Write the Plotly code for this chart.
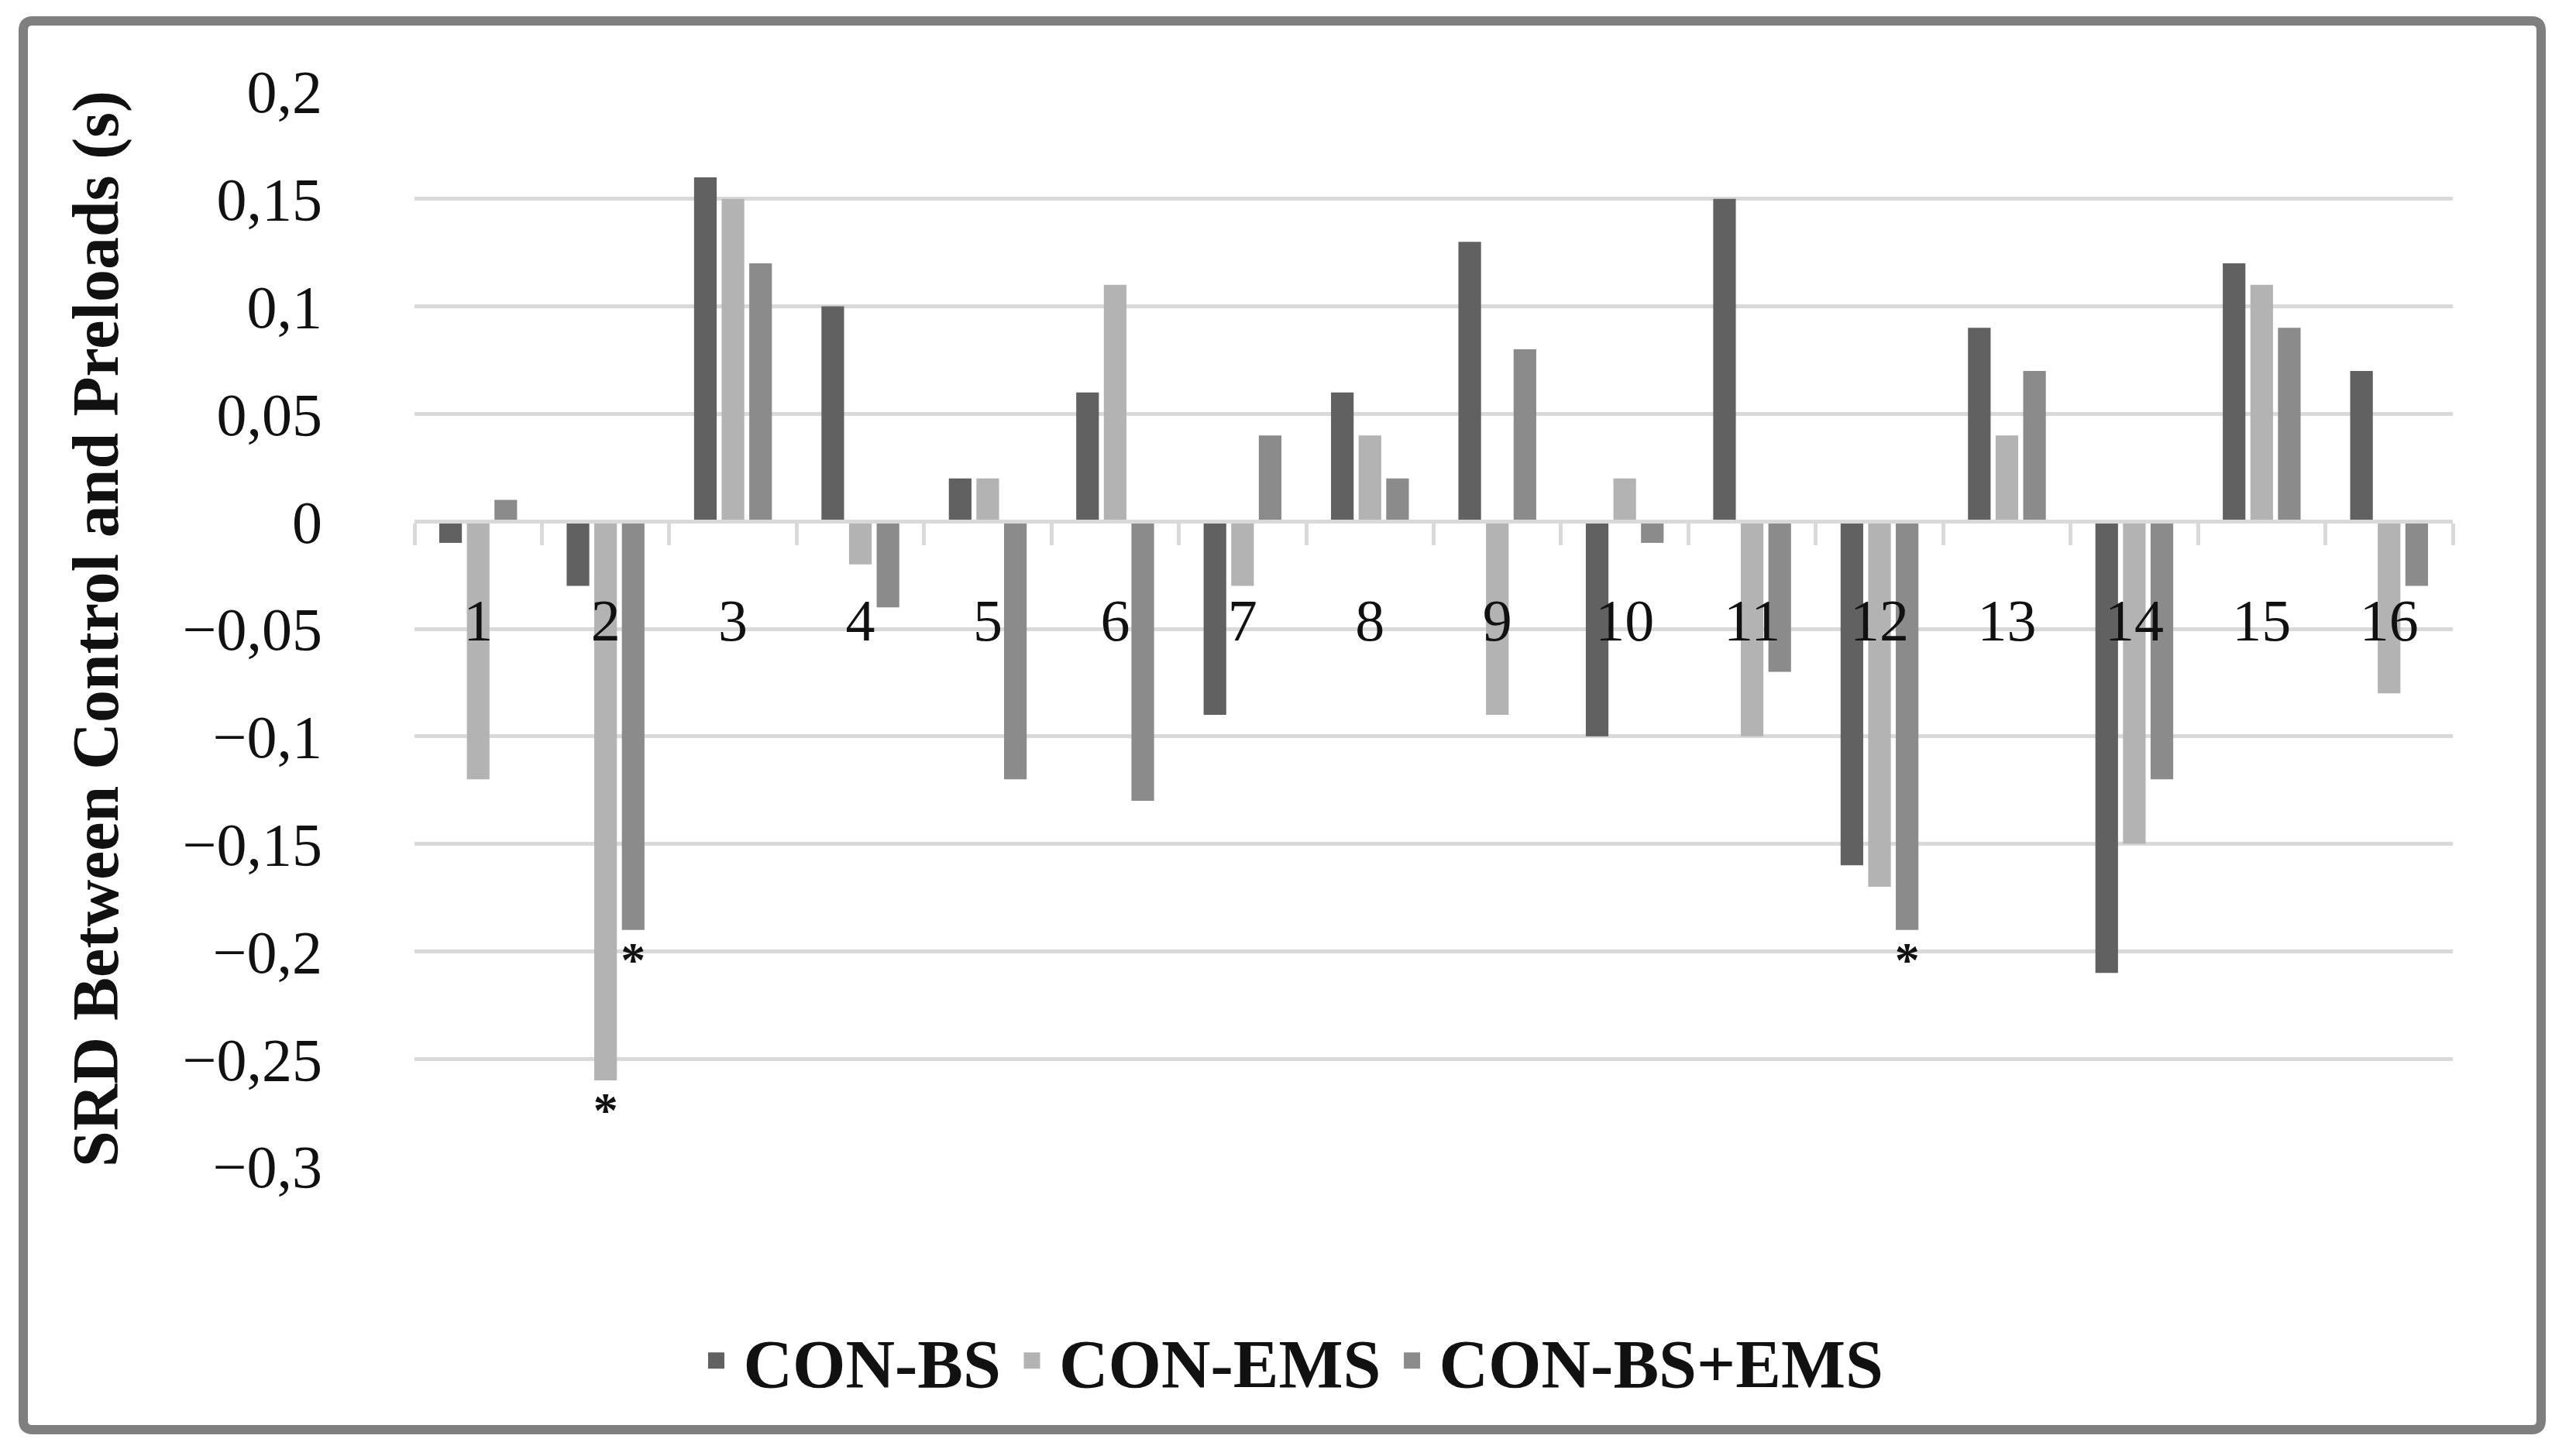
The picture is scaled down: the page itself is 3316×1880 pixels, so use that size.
import plotly.graph_objects as go

categories = [str(i) for i in range(1, 17)]
series_names = ["CON-BS", "CON-EMS", "CON-BS+EMS"]
con_bs = [-0.01, -0.03, 0.16, 0.10, 0.02, 0.06, -0.09, 0.06, 0.13, -0.10, 0.15, -0.16, 0.09, -0.21, 0.12, 0.07]
con_ems = [-0.12, -0.26, 0.15, -0.02, 0.02, 0.11, -0.03, 0.04, -0.09, 0.02, -0.10, -0.17, 0.04, -0.15, 0.11, -0.08]
con_bs_ems = [0.01, -0.19, 0.12, -0.04, -0.12, -0.13, 0.04, 0.02, 0.08, -0.01, -0.07, -0.19, 0.07, -0.12, 0.09, -0.03]
bs_marks = [""] * 16
ems_marks = ["", "*", "", "", "", "", "", "", "", "", "", "", "", "", "", ""]
bs_ems_marks = ["", "*", "", "", "", "", "", "", "", "", "", "*", "", "", "", ""]
colors = ["#616161", "#b3b3b3", "#8b8b8b"]
y_tickvals = [0.2, 0.15, 0.1, 0.05, 0, -0.05, -0.1, -0.15, -0.2, -0.25, -0.3]
y_ticktext = ["0,2", "0,15", "0,1", "0,05", "0", "\u22120,05", "\u22120,1", "\u22120,15", "\u22120,2", "\u22120,25", "\u22120,3"]
y_title = "SRD Between Control and Preloads (s)"

FONT = "Liberation Serif"
W, H = 3316, 1880
L, R, T, B = 535, 150, 118, 374
pw, ph = W - L - R, H - T - B

fig = go.Figure()
for name, vals, marks, col in zip(series_names, [con_bs, con_ems, con_bs_ems],
                                  [bs_marks, ems_marks, bs_ems_marks], colors):
    fig.add_trace(go.Bar(
        x=categories, y=vals, name=name, marker=dict(color=col, line=dict(width=0)),
        text=marks, textposition="outside", constraintext="none", cliponaxis=False,
        textfont=dict(family=FONT, size=64, color="#111111", weight="bold"),
        hoverinfo="x+y+name", showlegend=False, legendgroup=name,
    ))
# legend entries (larger swatches than bar legend symbols allow)
for name, col in zip(series_names, colors):
    fig.add_trace(go.Scatter(
        x=[None], y=[None], mode="markers", name=name, legendgroup=name,
        marker=dict(symbol="square", size=16, color=col, line=dict(color=col, width=5)),
        showlegend=True, hoverinfo="skip",
    ))

# rounded outer frame in paper coordinates
x0, x1 = (30 - L) / pw, (3280 - L) / pw
y0, y1 = (H - B - 1846) / ph, (H - B - 27) / ph
rx, ry = 12 / pw, 12 / ph
frame_path = (f"M {x0+rx},{y1} L {x1-rx},{y1} Q {x1},{y1} {x1},{y1-ry} "
              f"L {x1},{y0+ry} Q {x1},{y0} {x1-rx},{y0} L {x0+rx},{y0} "
              f"Q {x0},{y0} {x0},{y0+ry} L {x0},{y1-ry} Q {x0},{y1} {x0+rx},{y1} Z")

fig.update_layout(
    width=W, height=H, autosize=False,
    margin=dict(l=L, r=R, t=T, b=B, pad=0),
    paper_bgcolor="white", plot_bgcolor="white",
    barmode="group", bargap=0.35, bargroupgap=0.18,
    font=dict(family=FONT, color="#111111"),
    showlegend=True,
    legend=dict(orientation="h", x=(1663 - L) / pw, xanchor="center",
                y=(H - B - 1757) / ph, yanchor="middle",
                font=dict(family=FONT, size=88, color="#111111", weight="bold"),
                itemwidth=60, bgcolor="rgba(0,0,0,0)", itemclick=False, itemdoubleclick=False),
    shapes=[dict(type="path", xref="paper", yref="paper", path=frame_path,
                 line=dict(color="#7f7f7f", width=12), fillcolor="rgba(0,0,0,0)",
                 layer="below")],
)

fig.update_yaxes(
    range=[-0.3, 0.2], tickvals=y_tickvals, ticktext=y_ticktext,
    showgrid=True, gridcolor="#d9d9d9", gridwidth=5, zeroline=False,
    showline=False, ticks="", ticklabelstandoff=118,
    tickfont=dict(family=FONT, size=78, color="#111111"),
    title=dict(text=y_title, font=dict(family=FONT, size=84, color="#111111", weight="bold"),
               standoff=55),
    automargin=False,
)
fig.update_xaxes(
    type="category", anchor="free", position=0.6,
    showline=True, linecolor="#d9d9d9", linewidth=5,
    ticks="outside", tickson="boundaries", ticklen=28, tickwidth=5, tickcolor="#d9d9d9",
    showgrid=False, zeroline=False, ticklabelstandoff=60,
    tickfont=dict(family=FONT, size=76, color="#111111"),
    automargin=False,
)

fig.write_html("out.html", config={"displayModeBar": False},
               post_script="document.body.style.margin='0';document.body.style.overflow='hidden';")
